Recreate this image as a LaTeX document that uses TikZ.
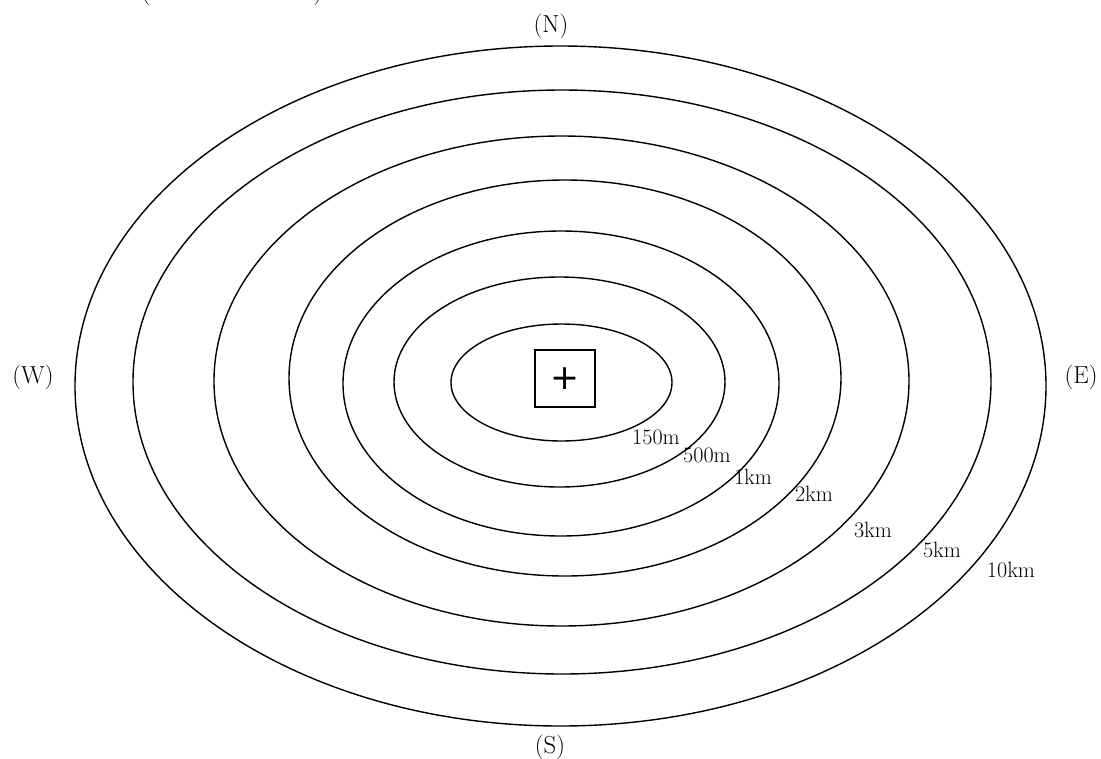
\documentclass[tikz,border=0pt]{standalone}
\usepackage{fontspec}
\newfontfamily\plusfont{DejaVu Sans}
\begin{document}
\begin{tikzpicture}[x=0.75pt,y=-0.75pt,
  ring/.style={line width=1.05pt},
  dist/.style={font=\fontsize{16.6}{18}\selectfont, inner sep=0pt},
  card/.style={font=\fontsize{18.5}{20}\selectfont, inner sep=0pt}]
\useasboundingbox (0,0) rectangle (1101,758);
% rings
\draw[ring] (561.5,382.5) ellipse [x radius=82.875pt, y radius=43.875pt];
\draw[ring] (559.5,382) ellipse [x radius=124.125pt, y radius=78.75pt];
\draw[ring] (561,383.5) ellipse [x radius=163.5pt, y radius=114.375pt];
\draw[ring] (565,378) ellipse [x radius=207pt, y radius=148.5pt];
\draw[ring] (561.5,381) ellipse [x radius=260.625pt, y radius=183.75pt];
\draw[ring] (562,382) ellipse [x radius=321.75pt, y radius=219pt];
\draw[ring] (560.5,386) ellipse [x radius=364.125pt, y radius=255pt];
% centre box
\node[draw, line width=1.2pt, minimum width=45pt, minimum height=42.75pt, inner sep=0pt,
      font=\plusfont\fontsize{26}{26}\selectfont] (site) at (565,378.5) {+};
% distance labels
\node[dist] (d150) at (656,437) {150m};
\node[dist] (d500) at (707,455) {500m};
\node[dist] (d1) at (753,477) {1km};
\node[dist] (d2) at (814,494) {2km};
\node[dist] (d3) at (873,530) {3km};
\node[dist] (d5) at (942,550) {5km};
\node[dist] (d10) at (1011,570) {10km};
% cardinal points
\node[card] (north) at (551,26) {(N)};
\node[card] (south) at (550,747) {(S)};
\node[card] (west) at (33,377) {(W)};
\node[card] (east) at (1081,377) {(E)};
% cut-off parentheses at top-left (as in the reference)
\node[card, anchor=base] (lp) at (146,-0.5) {(};
\node[card, anchor=base] (rp) at (318,-0.5) {)};
\end{tikzpicture}
\end{document}
